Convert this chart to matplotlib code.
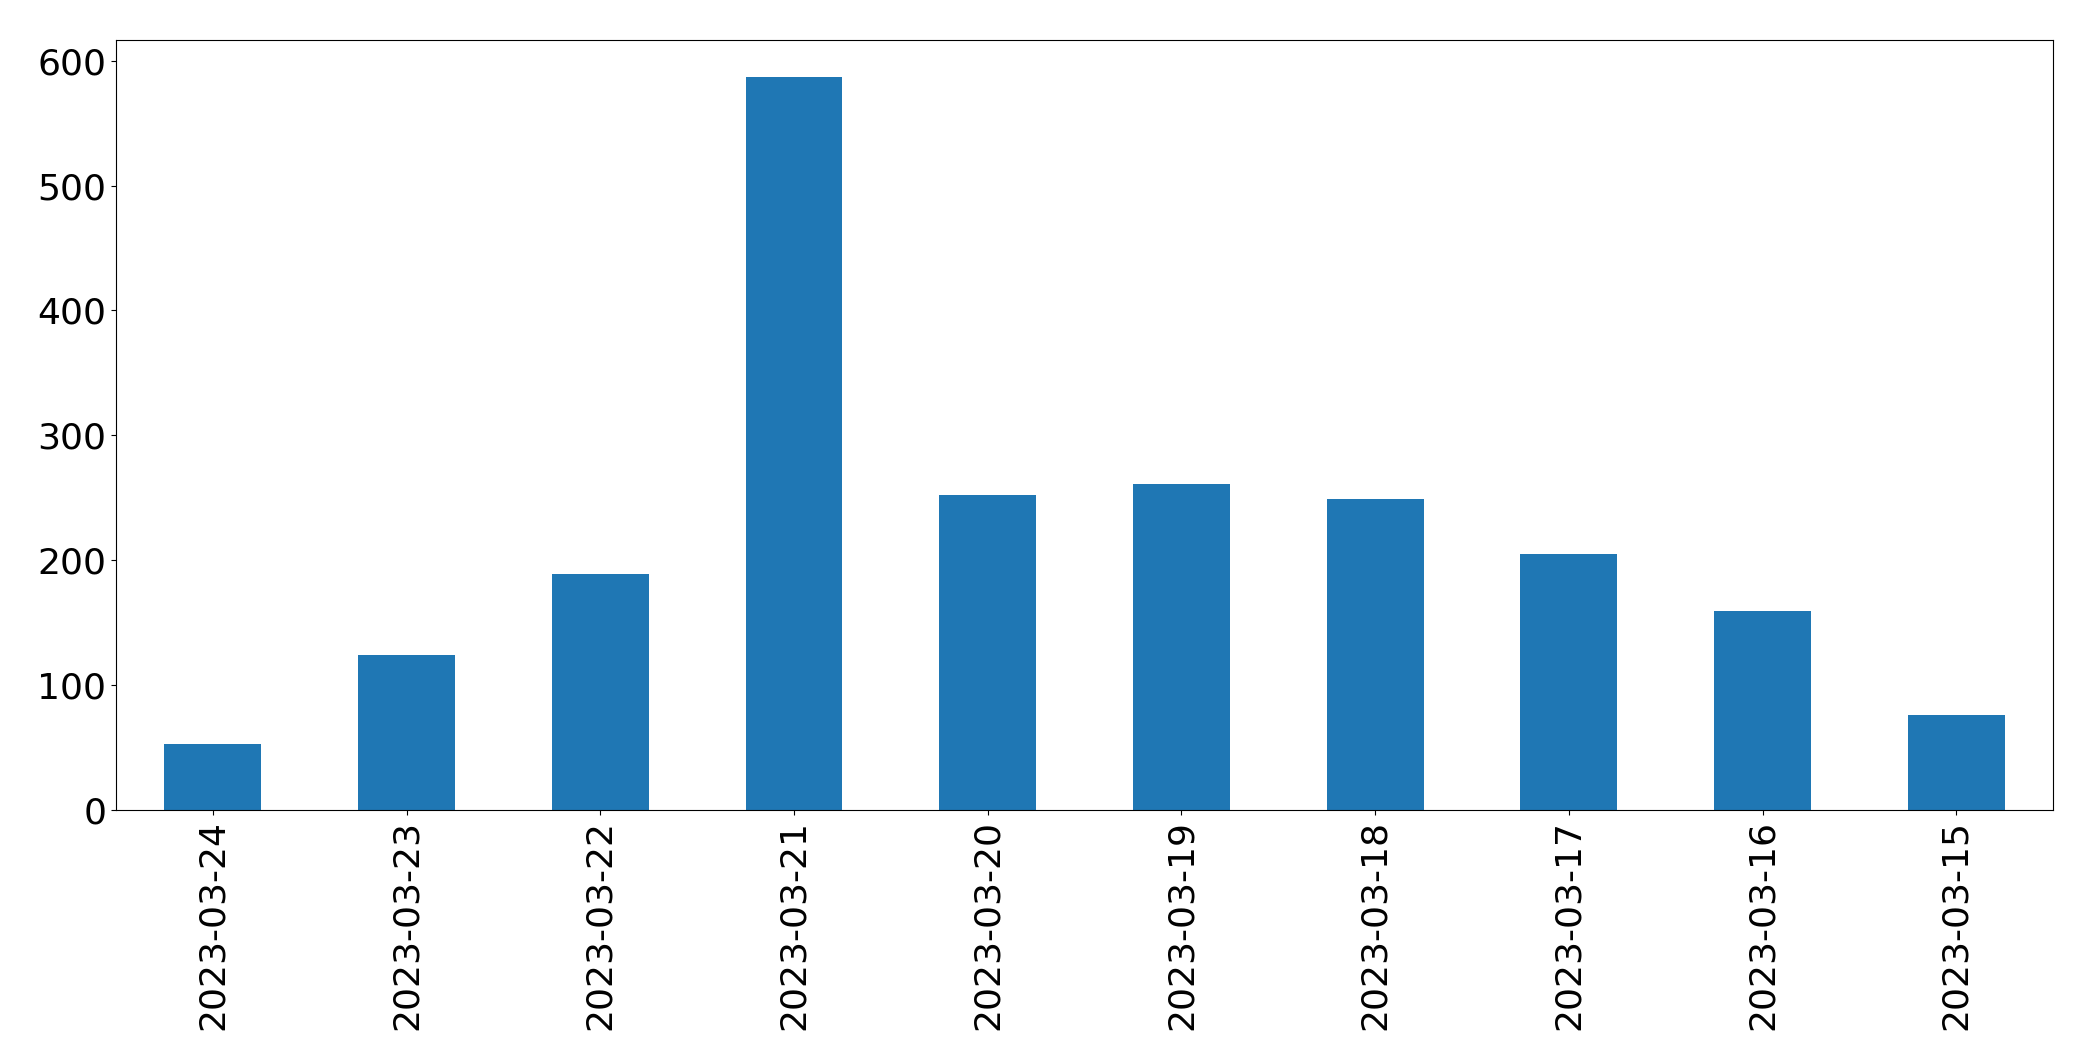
import matplotlib
matplotlib.use("Agg")
import matplotlib.pyplot as plt
import numpy as np

dates = ["2023-03-24", "2023-03-23", "2023-03-22", "2023-03-21", "2023-03-20",
         "2023-03-19", "2023-03-18", "2023-03-17", "2023-03-16", "2023-03-15"]
counts = [53, 124, 189, 587, 252, 261, 249, 205, 159, 76]

fig = plt.figure(figsize=(20.93, 10.61), dpi=100)
ax = fig.add_axes([0.0554, 0.2366, 0.9256, 0.7254])
x = np.arange(len(dates))
ax.bar(x, counts, width=0.5, color="#1f77b4")
ax.set_xlim(-0.5, len(dates) - 0.5)
ax.set_xticks(x)
ax.set_xticklabels(dates, rotation=90)
ax.tick_params(axis="both", labelsize=26)
fig.savefig("out.png", dpi=100)
